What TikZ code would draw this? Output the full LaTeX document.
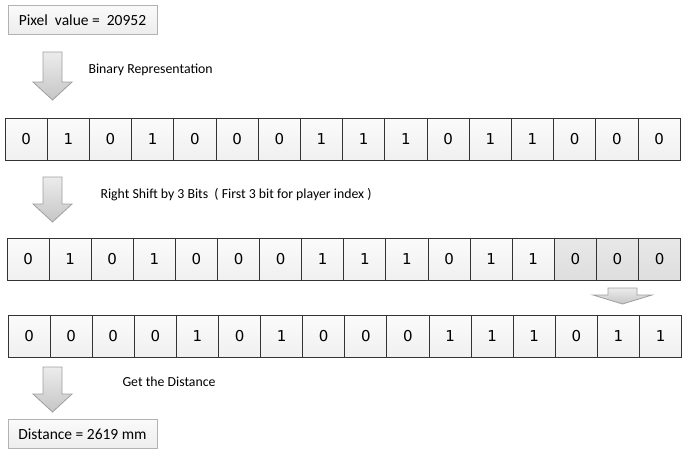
\documentclass[tikz,border=0pt]{standalone}
\usepackage{fontspec}
\setmainfont{Carlito}
\newfontfamily\digitfont{DejaVu Sans}
\usetikzlibrary{positioning}
\tikzset{
    %Define style for the value boxes
    valbox/.style={
           rectangle,
           draw=gray!60, thin,
           top color=gray!4, bottom color=gray!14,
           minimum width=149pt,
           minimum height=29pt,
           font=\fontsize{15.5}{17}\selectfont},
    %Define style for one bit
    bitcell/.style={
           rectangle,
           draw=black!80, thick,
           top color=gray!3, bottom color=gray!12,
           minimum width=42.2pt,
           minimum height=42pt,
           inner sep=0pt,
           font=\digitfont\fontsize{15}{17}\selectfont},
    dropbit/.style={
           bitcell,
           top color=gray!18, bottom color=gray!26},
    % Define block arrow style
    blockarr/.style={
           draw=gray!75, thick,
           top color=gray!15, bottom color=gray!45},
    steplabel/.style={
           anchor=west,
           font=\fontsize{13.8}{15}\selectfont}
}
\begin{document}
\begin{tikzpicture}[x=1pt, y=-1pt]
 \useasboundingbox (0,0) rectangle (696,458);
 \node[valbox] (pixel) at (82.5,20) {Pixel~~value =~~20952};
 % down arrows
 \draw[blockarr] (43,52) -- (62,52) -- (62,82) -- (72,82) -- (52.5,100) -- (33,82) -- (43,82) -- cycle;
 \node[steplabel] (binlab) at (85,70) {Binary Representation};
 \foreach \b [count=\i] in {0,1,0,1,0,0,0,1,1,1,0,1,1,0,0,0}
   \node[bitcell] (a\i) at (5+42.2*\i-21.1,139) {\b};
 \draw[blockarr] (43,177) -- (62,177) -- (62,204) -- (72,204) -- (52.5,222) -- (33,204) -- (43,204) -- cycle;
 \node[steplabel] (shiftlab) at (97,195) {Right Shift by 3 Bits~~( First 3 bit for player index )};
 \foreach \b [count=\i] in {0,1,0,1,0,0,0,1,1,1,0,1,1}
   \node[bitcell] (b\i) at (7+42.1*\i-21.05,259) {\b};
 \foreach \i in {14,15,16}
   \node[dropbit] (b\i) at (7+42.1*\i-21.05,259) {0};
 % shift arrow
 \draw[blockarr] (608,288) -- (637,288) -- (637,295) -- (652,295) -- (622.5,304) -- (593,295) -- (608,295) -- cycle;
 \foreach \b [count=\i] in {0,0,0,0,1,0,1,0,0,0,1,1,1,0,1,1}
   \node[bitcell] (c\i) at (8+42.1*\i-21.05,336) {\b};
 \draw[blockarr] (43,367) -- (62,367) -- (62,394) -- (72,394) -- (52.5,412) -- (33,394) -- (43,394) -- cycle;
 \node[steplabel] (distlab) at (119,382) {Get the Distance};
 \node[valbox] (dist) at (82.5,434) {Distance = 2619 mm};
\end{tikzpicture}
\end{document}
